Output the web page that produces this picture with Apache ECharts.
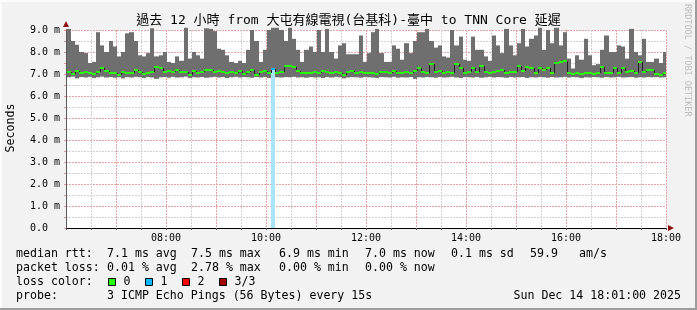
<!DOCTYPE html>
<html><head><meta charset="utf-8">
<script src="https://cdn.jsdelivr.net/npm/echarts@6/dist/echarts.min.js"></script>
<style>html,body{margin:0;padding:0;background:#f2f2f2}#c{width:697px;height:310px}</style>
</head><body><div id="c"></div>
<script>
// ---- data ----
const STEP_MIN = 5;             // minutes per step
const FIRST_STEP_MIN = 1;       // first step starts at 06:01
const xTickMinutes = [120, 240, 360, 480, 600, 720];
const xTickLabels = ['08:00', '10:00', '12:00', '14:00', '16:00', '18:00'];
const yTickValues = [0, 1, 2, 3, 4, 5, 6, 7, 8, 9];
const yTickLabels = ['0.0  ', '1.0 m', '2.0 m', '3.0 m', '4.0 m', '5.0 m', '6.0 m', '7.0 m', '8.0 m', '9.0 m'];

// max ping RTT per step (ms)
const maxRtt = [
 9.05,8.50,8.33,8.00,7.95,7.50,7.55,8.90,8.30,8.00,8.50,8.25,
 7.80,8.00,8.85,8.90,8.50,7.85,7.80,7.95,9.08,7.80,7.85,8.00,
 7.55,7.50,7.80,7.60,9.10,7.70,8.00,7.85,7.70,9.08,9.05,8.95,
 8.15,8.10,7.85,7.55,7.50,7.60,7.50,8.10,9.00,8.50,7.55,8.10,
 9.00,9.10,9.10,9.00,8.50,9.10,8.60,8.10,7.55,8.10,8.25,8.00,
 9.00,8.00,9.05,8.00,7.70,8.30,8.40,7.90,7.90,7.90,8.75,7.55,
 7.95,8.90,9.05,7.95,7.55,7.55,8.30,8.15,7.65,8.40,7.95,8.50,
 8.90,8.90,9.05,8.50,8.20,8.30,7.80,7.75,9.00,8.30,8.70,7.65,
 7.60,8.70,8.10,8.10,7.80,7.60,8.75,8.30,7.95,9.05,8.30,7.85,
 8.40,9.05,8.25,8.60,8.75,9.10,8.10,9.00,8.40,9.10,8.30,8.90,
 7.70,7.25,7.85,7.65,8.60,7.85,7.40,7.45,8.10,8.75,8.00,8.00,
 8.30,8.25,7.70,9.05,8.00,7.85,8.60,7.55,7.55,7.70,7.50,8.00
];
// min ping RTT per step (ms)
const minRtt = [
 6.85,6.88,6.80,6.86,6.84,6.87,6.82,6.85,6.88,6.84,6.86,6.83,
 6.85,6.80,6.86,6.84,6.87,6.85,6.82,6.86,6.84,6.78,6.85,6.86,
 6.83,6.87,6.84,6.85,6.88,6.82,6.85,6.84,6.86,6.83,6.85,6.87,
 6.84,6.86,6.82,6.85,6.87,6.84,6.86,6.85,6.83,6.86,6.84,6.86,
 6.82,6.88,6.85,6.84,6.86,6.85,6.87,6.84,6.85,6.83,6.86,6.84,
 6.85,6.82,6.86,6.84,6.87,6.85,6.80,6.84,6.86,6.85,6.83,6.86,
 6.85,6.84,6.82,6.86,6.85,6.84,6.87,6.83,6.85,6.84,6.86,6.78,
 6.85,6.84,6.86,6.85,6.83,6.86,6.84,6.85,6.87,6.84,6.82,6.86,
 6.85,6.84,6.86,6.83,6.85,6.87,6.84,6.86,6.85,6.83,6.86,6.84,
 6.85,6.86,6.82,6.85,6.84,6.86,6.85,6.83,6.86,6.84,6.85,6.87,
 6.84,6.86,6.85,6.82,6.85,6.84,6.86,6.85,6.83,6.86,6.84,6.85,
 6.87,6.84,6.85,6.86,6.83,6.85,6.84,6.86,6.85,6.86,6.84,6.85
];
// median RTT per step (ms)
const medianRtt = [
 7.10,7.02,7.15,7.04,7.10,7.03,6.98,7.10,7.26,7.12,7.03,7.06,
 6.96,7.10,7.06,7.03,7.18,7.10,6.98,7.03,7.10,7.32,7.26,7.10,
 7.13,7.10,7.18,7.10,7.10,6.95,7.13,7.03,7.10,7.18,7.20,7.10,
 7.12,7.08,7.04,7.10,7.06,7.12,7.02,7.10,7.16,6.96,7.08,7.12,
 7.06,7.24,7.05,7.10,7.38,7.35,7.30,7.12,7.03,7.06,7.04,7.10,
 7.06,7.12,7.08,7.03,7.10,7.06,6.96,7.08,7.12,7.05,7.10,7.06,
 7.03,7.06,7.00,7.08,7.10,7.04,7.12,7.06,7.03,7.10,7.05,7.12,
 7.26,7.08,7.04,7.45,7.10,7.12,7.03,7.08,7.06,7.46,7.26,7.06,
 7.10,7.28,7.08,7.38,7.10,7.04,7.08,7.12,7.20,7.06,7.10,7.10,
 7.38,7.12,7.33,7.26,7.04,7.26,7.18,7.26,7.06,7.48,7.55,7.58,
 7.05,7.02,7.03,6.98,7.04,7.03,7.00,7.03,7.32,7.04,7.06,7.28,
 7.06,7.28,7.08,7.12,7.06,7.56,7.10,7.18,7.18,7.00,6.97,7.05
];
// steps with packet loss, and how many of the 3 pings were lost
const lossSteps = [49];
const lossCounts = [1];

const lossColorLabels = ['0', '1', '2', '3/3'];
const lossColors = ['#26ff00', '#00b8ff', '#ff0000', '#a00000'];

// ---- build series data ----
const stepStart = maxRtt.map((_, i) => FIRST_STEP_MIN + i * STEP_MIN);
const lossOf = maxRtt.map(() => 0);
lossSteps.forEach((s, k) => { lossOf[s] = lossCounts[k]; });
const smokeData = stepStart.map((t, i) => [t, minRtt[i], maxRtt[i]]);
const medianData = stepStart.map((t, i) => [t, medianRtt[i], i > 0 ? medianRtt[i - 1] : medianRtt[i], lossOf[i]]);
const lossData = lossSteps.map((s, k) => [stepStart[s], medianRtt[s], lossCounts[k]]);

const MONO = '"DejaVu Sans Mono", "Noto Sans CJK TC", monospace';

function clampX(x, cs) { return Math.max(cs.x, Math.min(cs.x + cs.width, x)); }

function renderSmoke(params, api) {
  const cs = params.coordSys;
  const t = api.value(0), lo = api.value(1), hi = api.value(2);
  const a = api.coord([t, hi]);
  const b = api.coord([t + STEP_MIN, lo]);
  const x0 = Math.round(clampX(a[0], cs)), x1 = Math.round(clampX(b[0], cs));
  return { type: 'rect', shape: { x: x0, y: a[1], width: x1 - x0, height: b[1] - a[1] },
           style: { fill: '#6f6f6f' } };
}
function renderLoss(params, api) {
  const cs = params.coordSys;
  const t = api.value(0), m = api.value(1);
  const a = api.coord([t, m]);
  const b = api.coord([t + STEP_MIN, 0]);
  const x0 = Math.round(clampX(a[0], cs)), x1 = Math.round(clampX(b[0], cs));
  return { type: 'rect', shape: { x: x0, y: a[1], width: x1 - x0, height: b[1] - a[1] },
           style: { fill: '#a9e4f8' } };
}
function renderMedian(params, api) {
  const cs = params.coordSys;
  const t = api.value(0), m = api.value(1), pm = api.value(2), lv = api.value(3);
  const a = api.coord([t, m]);
  const b = api.coord([t + STEP_MIN, m]);
  const x0 = Math.round(clampX(a[0], cs)), x1 = Math.round(clampX(b[0], cs));
  const y = Math.round(a[1]);
  const children = [];
  const p = api.coord([t, pm]);
  const yp = Math.round(p[1]);
  if (yp !== y) {
    children.push({ type: 'line', shape: { x1: x0 + 0.5, y1: yp, x2: x0 + 0.5, y2: y },
                    style: { stroke: '#202020', lineWidth: 1 } });
  }
  children.push({ type: 'rect', shape: { x: x0, y: y - 1, width: x1 - x0, height: 2 },
                  style: { fill: lossColors[lv] } });
  return { type: 'group', children: children };
}

function txt(text, x, y, opts) {
  opts = opts || {};
  return {
    type: 'text', x: x, y: y, rotation: opts.rotation || 0, silent: true,
    style: { text: text, font: (opts.size || 11.6) + 'px ' + MONO, fill: opts.fill || '#000',
             align: opts.align || 'left', textAlign: opts.align || 'left',
             verticalAlign: 'middle', textVerticalAlign: 'middle' }
  };
}

const legendRows = [
  [['median rtt:', 16], ['7.1 ms avg', 107], ['7.5 ms max', 191], ['6.9 ms min', 279], ['7.0 ms now', 365], ['0.1 ms sd', 451], ['59.9', 530], ['am/s', 579]],
  [['packet loss:', 16], ['0.01 % avg', 107], ['2.78 % max', 191], ['0.00 % min', 279], ['0.00 % now', 365]],
  [['loss color:', 16]],
  [['probe:', 16], ['3 ICMP Echo Pings (56 Bytes) every 15s', 107]]
];
const legendY = [254, 268, 282, 296];

const graphic = [
  { type: 'rect', silent: true, shape: { x: 0, y: 0, width: 697, height: 2 }, style: { fill: '#fbfbfb' } },
  { type: 'rect', silent: true, shape: { x: 0, y: 0, width: 2, height: 310 }, style: { fill: '#fbfbfb' } },
  { type: 'rect', silent: true, shape: { x: 0, y: 308, width: 697, height: 2 }, style: { fill: '#9c9c9c' } },
  { type: 'rect', silent: true, shape: { x: 695, y: 0, width: 2, height: 310 }, style: { fill: '#9c9c9c' } },
  txt('過去 12 小時 from 大屯有線電視(台基科)-臺中 to TNN Core 延遲', 348.5, 21, { size: 13, align: 'center' }),
  txt('RRDTOOL / TOBI OETIKER', 687, 4, { size: 8.5, fill: '#bdbdbd', rotation: -Math.PI / 2 }),
  txt('Seconds', 11, 128, { size: 11.6, align: 'center', rotation: Math.PI / 2 }),
  txt('Sun Dec 14 18:01:00 2025', 681, 296, { align: 'right' })
];
legendRows.forEach((row, r) => row.forEach(([s, x]) => graphic.push(txt(s, x, legendY[r]))));
lossColorLabels.forEach((lab, k) => {
  const bx = 108.5 + k * 37;
  graphic.push({ type: 'rect', silent: true, shape: { x: bx, y: 278.5, width: 7, height: 7 },
                 style: { fill: lossColors[k], stroke: '#000', lineWidth: 1 } });
  graphic.push(txt(lab, bx + 15, 282));
});

const chart = echarts.init(document.getElementById('c'), null, { renderer: 'canvas' });
chart.setOption({
  animation: false,
  backgroundColor: '#f2f2f2',
  grid: { left: 66, top: 30, width: 600, height: 198, show: true, backgroundColor: '#ffffff', borderWidth: 0 },
  xAxis: [{
    type: 'value', min: 0, max: 720, interval: 30, position: 'bottom',
    axisLine: { show: true, onZero: false, lineStyle: { color: '#000', width: 1 } },
    axisTick: { show: true, length: 2, lineStyle: { color: '#555' } },
    axisLabel: { show: true, margin: 5, fontFamily: MONO, fontSize: 10, color: '#000', showMaxLabel: true,
      formatter: v => { const k = xTickMinutes.indexOf(v); return k >= 0 ? xTickLabels[k] : ''; } },
    splitLine: { show: true, lineStyle: { color: ['#e6a3a3', '#d2d2d2'], type: [2, 1], width: 1 } }
  }, {
    type: 'value', min: 0, max: 720, position: 'bottom', z: -1,
    axisLine: { show: true, onZero: false, symbol: ['none', 'triangle'], symbolSize: [6, 6], symbolOffset: [0, 5],
                lineStyle: { color: '#8b1010', width: 1 } },
    axisTick: { show: false }, axisLabel: { show: false }, splitLine: { show: false }
  }],
  yAxis: [{
    type: 'value', min: 0, max: 9, interval: 0.5, position: 'left',
    axisLine: { show: true, onZero: false, lineStyle: { color: '#5a5a5a', width: 1 } },
    axisTick: { show: true, length: 2, lineStyle: { color: '#d99' } },
    axisLabel: { show: true, margin: 6, fontFamily: MONO, fontSize: 10, color: '#000',
      formatter: v => { const k = yTickValues.indexOf(v); return k >= 0 ? yTickLabels[k] : ''; } },
    splitLine: { show: true, lineStyle: { color: ['#e6a3a3', '#d2d2d2'], type: [2, 1], width: 1 } }
  }, {
    type: 'value', min: 0, max: 9, position: 'left', z: -1,
    axisLine: { show: true, onZero: false, symbol: ['none', 'triangle'], symbolSize: [6, 6], symbolOffset: [0, 6],
                lineStyle: { color: '#8b1010', width: 1 } },
    axisTick: { show: false }, axisLabel: { show: false }, splitLine: { show: false }
  }],
  series: [
    { type: 'custom', name: 'smoke', renderItem: renderSmoke, data: smokeData, clip: false,
      encode: { x: 0, y: [1, 2] }, silent: true, z: 2 },
    { type: 'custom', name: 'loss', renderItem: renderLoss, data: lossData, clip: false,
      encode: { x: 0, y: 1 }, silent: true, z: 3 },
    { type: 'custom', name: 'median', renderItem: renderMedian, data: medianData, clip: false,
      encode: { x: 0, y: 1 }, silent: true, z: 4 }
  ],
  graphic: graphic
});
</script>
</body></html>
